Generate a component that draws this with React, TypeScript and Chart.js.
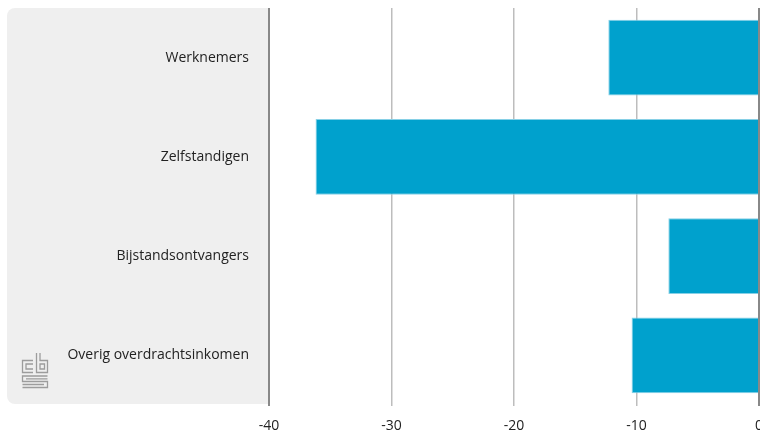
import React, { useEffect, useRef } from "react";
import { Chart, registerables } from "chart.js";

Chart.register(...registerables);

const categories = ["Werknemers", "Zelfstandigen", "Bijstandsontvangers", "Overig overdrachtsinkomen"];
const values = [-12.3, -36.2, -7.4, -10.4];
const xMin = -40;
const xMax = 0;
const xStep = 10;

const FONT = "'Open Sans', 'DejaVu Sans', sans-serif";

const panelPlugin = {
  id: "panel",
  beforeDraw(chart: any) {
    const ctx = chart.ctx;
    const area = chart.chartArea;
    const x0 = 7;
    const y0 = area.top;
    const x1 = area.left - 1;
    const y1 = area.bottom - 1;
    const r = 8;
    ctx.save();
    ctx.fillStyle = "#efefef";
    ctx.beginPath();
    ctx.moveTo(x0 + r, y0);
    ctx.lineTo(x1, y0);
    ctx.lineTo(x1, y1);
    ctx.lineTo(x0 + r, y1);
    ctx.arcTo(x0, y1, x0, y1 - r, r);
    ctx.lineTo(x0, y0 + r);
    ctx.arcTo(x0, y0, x0 + r, y0, r);
    ctx.closePath();
    ctx.fill();

    // CBS logo
    ctx.strokeStyle = "#9c9c9c";
    ctx.lineWidth = 1.3;
    ctx.beginPath();
    // c
    ctx.moveTo(33, 360.5); ctx.lineTo(22.5, 360.5); ctx.lineTo(22.5, 372.5); ctx.lineTo(33, 372.5);
    ctx.moveTo(33, 364); ctx.lineTo(26, 364); ctx.lineTo(26, 369); ctx.lineTo(33, 369);
    // b
    ctx.moveTo(36.5, 353); ctx.lineTo(36.5, 372.5); ctx.lineTo(47.5, 372.5); ctx.lineTo(47.5, 360.5); ctx.lineTo(40, 360.5); ctx.lineTo(40, 353);
    ctx.rect(40, 364, 4.5, 5);
    // S
    ctx.moveTo(47.5, 376); ctx.lineTo(22.5, 376); ctx.lineTo(22.5, 381.5); ctx.lineTo(47.5, 381.5); ctx.lineTo(47.5, 387.5); ctx.lineTo(22.5, 387.5);
    ctx.moveTo(47.5, 378.8); ctx.lineTo(26, 378.8);
    ctx.moveTo(22.5, 384.5); ctx.lineTo(44, 384.5);
    ctx.stroke();
    ctx.restore();
  },
};

export default function App() {
  const ref = useRef<HTMLCanvasElement>(null);

  useEffect(() => {
    if (!ref.current) return;
    const chart = new Chart(ref.current, {
      type: "bar",
      data: {
        labels: categories,
        datasets: [
          {
            data: values,
            backgroundColor: "#00a1cd",
            borderColor: "#86d0e6",
            borderWidth: 1,
            categoryPercentage: 1,
            barPercentage: 0.765,
          },
        ],
      },
      options: {
        indexAxis: "y",
        animation: false,
        responsive: false,
        devicePixelRatio: 1,
        layout: { padding: { left: 7, top: 8, right: 1, bottom: 0 } },
        plugins: { legend: { display: false }, tooltip: { enabled: false } },
        scales: {
          y: {
            grid: { display: false, drawTicks: false },
            border: { display: false },
            ticks: {
              padding: 20,
              color: "#222",
              font: { family: FONT, size: 14 },
            },
            afterFit: (s: any) => {
              s.width = 262;
              s.paddingTop = 0;
              s.paddingBottom = 0;
            },
          },
          x: {
            min: xMin,
            max: xMax,
            border: { display: false },
            grid: {
              color: (c: any) =>
                c.tick && (c.tick.value === xMin || c.tick.value === xMax) ? "#888" : "#bdbdbd",
              lineWidth: (c: any) =>
                c.tick && (c.tick.value === xMin || c.tick.value === xMax) ? 2 : 1.5,
              tickLength: 1,
            },
            ticks: {
              stepSize: xStep,
              padding: 12,
              color: "#222",
              font: { family: FONT, size: 14 },
              maxRotation: 0,
            },
            afterFit: (s: any) => {
              s.paddingLeft = 0;
              s.paddingRight = 0;
              s.height = 30;
            },
          },
        },
      },
      plugins: [panelPlugin],
    } as any);
    return () => chart.destroy();
  }, []);

  return (
    <div style={{ position: "absolute", left: 0, top: 0, width: 760, height: 435, background: "#fff" }}>
      <canvas ref={ref} width={760} height={435} />
    </div>
  );
}
